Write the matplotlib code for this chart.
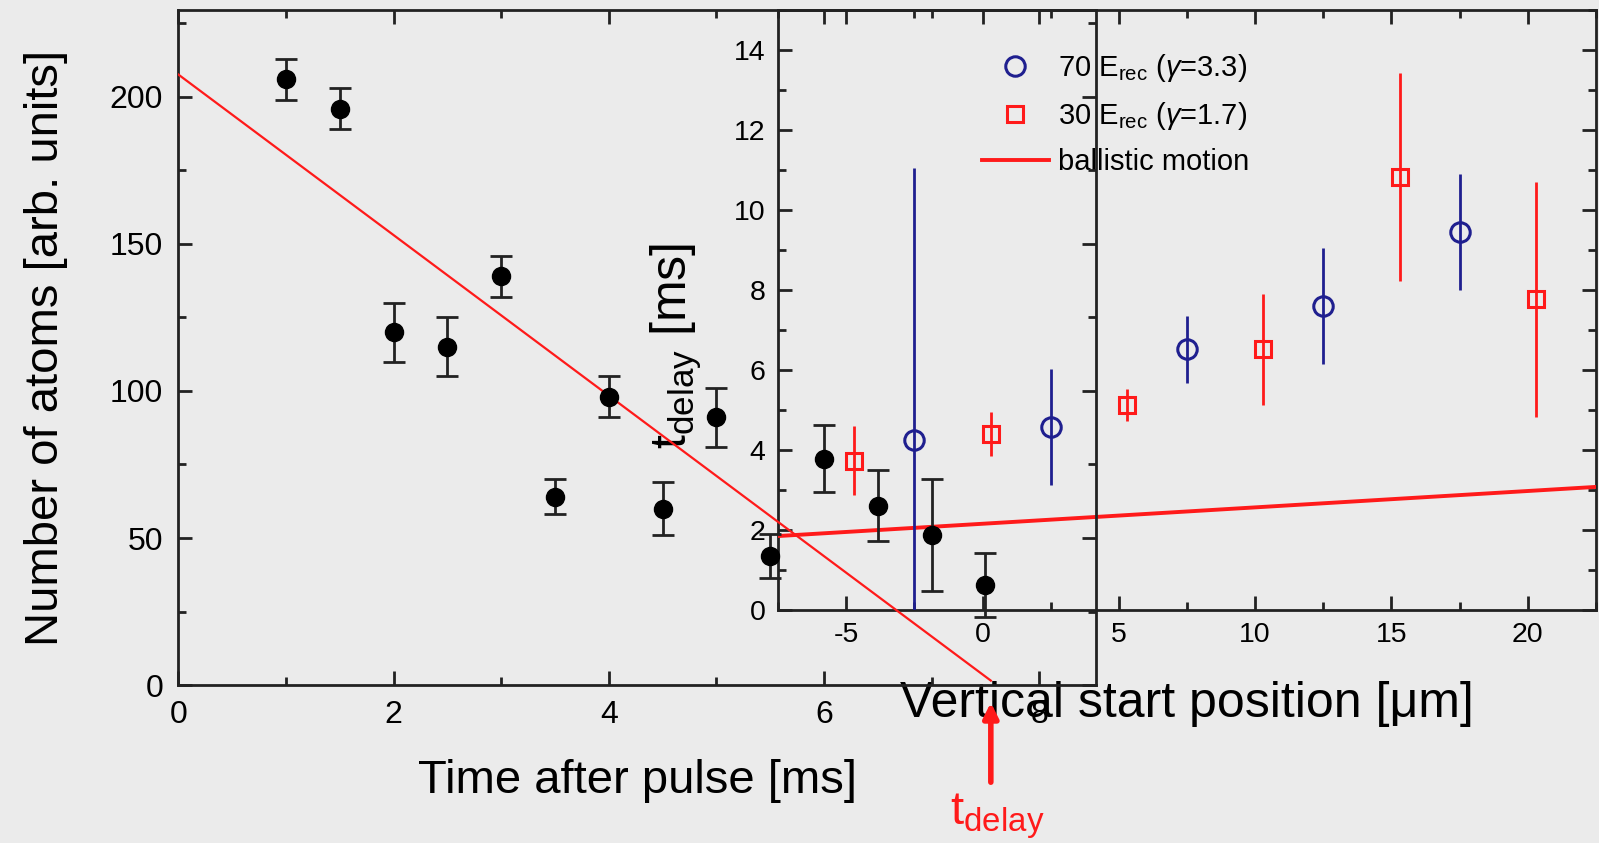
import matplotlib
matplotlib.use("Agg")
import matplotlib.pyplot as plt
from matplotlib.lines import Line2D
from matplotlib.ticker import MultipleLocator

plt.rcParams["font.family"] = ["Liberation Sans", "DejaVu Sans"]
plt.rcParams["mathtext.fontset"] = "custom"
plt.rcParams["mathtext.rm"] = "Liberation Sans"
plt.rcParams["mathtext.it"] = "Liberation Sans:italic"
plt.rcParams["mathtext.bf"] = "Liberation Sans:bold"
plt.rcParams["axes.unicode_minus"] = False

# main plot: atom number vs time after pulse
time_ms = [1.0, 1.5, 2.0, 2.5, 3.0, 3.5, 4.0, 4.5, 5.0, 5.5, 6.0, 6.5, 7.0, 7.5]
atoms = [206, 196, 120, 115, 139, 64, 98, 60, 91, 44, 77, 61, 51, 34]
atoms_err = [7, 7, 10, 10, 7, 6, 7, 9, 10, 7.5, 11.5, 12, 19, 11]
fit_t = [0.0, 7.55]
fit_atoms = [207.6, 1.5]
t_delay = 7.55

# inset: t_delay vs vertical start position
pos_70 = [-2.5, 2.5, 7.5, 12.5, 17.5]
tdel_70 = [4.24, 4.57, 6.51, 7.59, 9.45]
err_70 = [6.8, 1.45, 0.83, 1.45, 1.45]
pos_30 = [-4.7, 0.3, 5.3, 10.3, 15.3, 20.3]
tdel_30 = [3.73, 4.39, 5.13, 6.51, 10.83, 7.77]
err_30 = [0.86, 0.55, 0.4, 1.38, 2.6, 2.94]
ballistic_x = [-7.5, 22.5]
ballistic_y = [1.84, 3.07]

BG = "#ebebeb"
RED = "#ff1a1a"
BLUE = "#1f1f8f"

fig = plt.figure(figsize=(15.99, 8.43), dpi=100, facecolor=BG)

ax = fig.add_axes([0.1116, 0.1874, 0.5740, 0.8005])
ins = fig.add_axes([0.4866, 0.2769, 0.5115, 0.7110])
ax.set_zorder(2)
ins.set_zorder(1)
ax.patch.set_visible(False)
ins.patch.set_visible(False)

# ---- main axes
ax.plot(fit_t, fit_atoms, color=RED, lw=1.6, zorder=3)
ax.errorbar(time_ms, atoms, yerr=atoms_err, fmt="o", color="black", ms=13,
            ecolor="#222222", elinewidth=2, capsize=8, capthick=2, zorder=4)
ax.set_xlim(0, 8.53)
ax.set_ylim(0, 229.5)
ax.xaxis.set_major_locator(MultipleLocator(2))
ax.xaxis.set_minor_locator(MultipleLocator(1))
ax.yaxis.set_major_locator(MultipleLocator(50))
ax.yaxis.set_minor_locator(MultipleLocator(25))
ax.tick_params(which="both", direction="in", top=True, right=True,
               width=2, color="#222222")
ax.tick_params(which="major", length=10, labelsize=23, pad=11)
ax.tick_params(which="minor", length=6)
for s in ax.spines.values():
    s.set_linewidth(2)
    s.set_color("#222222")
ax.set_xlabel("Time after pulse [ms]", fontsize=34, labelpad=21)
ax.set_ylabel("Number of atoms [arb. units]", fontsize=34, labelpad=30)

# arrow marking t_delay under the main axis
ax.annotate("", xy=(t_delay, -5), xytext=(t_delay, -34),
            xycoords="data", textcoords="data", annotation_clip=False,
            arrowprops=dict(arrowstyle="-|>", color=RED, lw=4,
                            mutation_scale=22))
fig.text(0.624, 0.002, r"$\mathrm{t}_{\mathrm{delay}}$", color=RED,
         fontsize=34, ha="center", va="bottom")

# ---- inset axes
ins.plot(ballistic_x, ballistic_y, color=RED, lw=2.8, zorder=3)
ins.errorbar(pos_70, tdel_70, yerr=err_70, fmt="o", mfc="none", mec=BLUE,
             mew=2.2, ms=14, ecolor=BLUE, elinewidth=2, zorder=4)
ins.errorbar(pos_30, tdel_30, yerr=err_30, fmt="s", mfc="none", mec=RED,
             mew=2.2, ms=12, ecolor=RED, elinewidth=2, zorder=4)
ins.set_xlim(-7.5, 22.5)
ins.set_ylim(0, 15)
ins.xaxis.set_major_locator(MultipleLocator(5))
ins.xaxis.set_minor_locator(MultipleLocator(2.5))
ins.yaxis.set_major_locator(MultipleLocator(2))
ins.yaxis.set_minor_locator(MultipleLocator(1))
ins.tick_params(which="both", direction="in", top=True, right=True,
                width=2, color="#222222")
ins.tick_params(which="major", length=10, labelsize=20.5, pad=9)
ins.tick_params(which="minor", length=6)
for s in ins.spines.values():
    s.set_linewidth(2)
    s.set_color("#222222")
ins.set_xlabel("Vertical start position [\u03bcm]", fontsize=36, labelpad=24)
ins.set_ylabel(r"$\mathrm{t}_{\mathrm{delay}}$ [ms]", fontsize=36)
ins.yaxis.set_label_coords(-0.09, 0.44)

handles = [
    Line2D([], [], ls="none", marker="o", mfc="none", mec=BLUE, mew=2.2, ms=14),
    Line2D([], [], ls="none", marker="s", mfc="none", mec=RED, mew=2.2, ms=12),
    Line2D([], [], color=RED, lw=2.8),
]
labels = [r"70 E$_{\mathrm{rec}}$ ($\gamma$=3.3)",
          r"30 E$_{\mathrm{rec}}$ ($\gamma$=1.7)",
          "ballistic motion"]
ins.legend(handles, labels, loc="upper left", bbox_to_anchor=(0.235, 0.95),
           frameon=False, fontsize=21, handlelength=2.3, handletextpad=0.3,
           labelspacing=0.55, borderaxespad=0)

fig.savefig("out.png", dpi=100, facecolor=BG)
